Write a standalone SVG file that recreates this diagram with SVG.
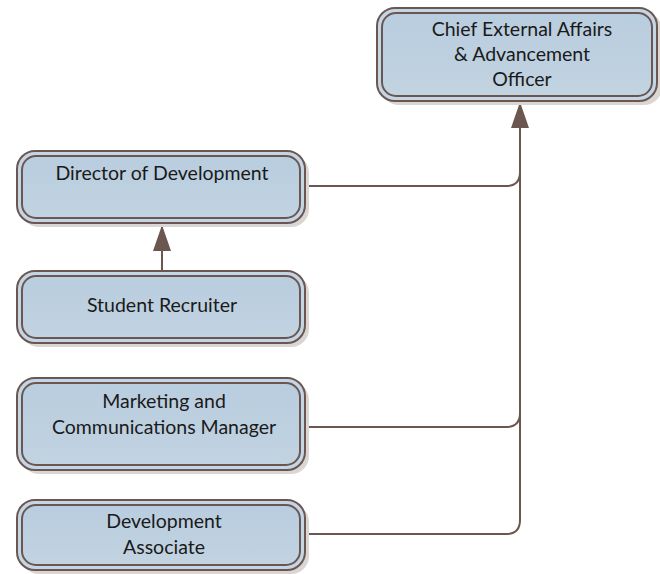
<svg xmlns="http://www.w3.org/2000/svg" width="660" height="574" viewBox="0 0 660 574">
<defs>
<linearGradient id="g" x1="0" y1="0" x2="0" y2="1">
<stop offset="0" stop-color="#b8cddf"/>
<stop offset="1" stop-color="#c2d3e1"/>
</linearGradient>
<marker id="ah" markerWidth="26" markerHeight="18" refX="26" refY="9" orient="auto" markerUnits="userSpaceOnUse" viewBox="0 0 26 18">
<path d="M0,0 L26,9 L0,18 Z" fill="#6b5750"/>
</marker>
<style>
.sh{fill:#d9d6d3;}
.outer{fill:#c4d6e6;stroke:#6b5750;stroke-width:2;}
.inner{fill:url(#g);stroke:#6b5750;stroke-width:2;}
.t{font-family:Lato,"Open Sans","Liberation Sans",sans-serif;font-size:19.5px;fill:#1a1a1a;text-anchor:middle;}
.c{fill:none;stroke:#6b5750;stroke-width:2;}
</style>
</defs>
<g id="connectors">
<path class="c" d="M306,534 H506 Q520,534 520,520 V128"/>
<path class="c" d="M306,427 H506 Q520,427 520,413"/>
<path class="c" d="M306,186 H506 Q520,186 520,172"/>
<path class="c" d="M520,130 V102" marker-end="url(#ah)"/>
<path class="c" d="M162,271 V225" marker-end="url(#ah)"/>
</g>
<g id="chief">
<rect class="sh" x="381" y="12" width="281" height="93" rx="18"/>
<rect class="outer" x="377" y="8" width="280" height="93" rx="18"/>
<rect class="inner" x="382" y="13" width="270" height="83" rx="14"/>
<text class="t" x="522" y="36">Chief External Affairs</text>
<text class="t" x="522" y="61">&amp; Advancement</text>
<text class="t" x="522" y="86">Officer</text>
</g>
<g id="director">
<rect class="sh" x="21" y="155" width="288" height="72" rx="18"/>
<rect class="outer" x="17" y="151" width="288" height="72" rx="18"/>
<rect class="inner" x="22" y="156" width="278" height="62" rx="14"/>
<text class="t" x="162" y="180">Director of Development</text>
</g>
<g id="recruiter">
<rect class="sh" x="21" y="275" width="288" height="72" rx="18"/>
<rect class="outer" x="17" y="271" width="288" height="72" rx="18"/>
<rect class="inner" x="22" y="276" width="278" height="62" rx="14"/>
<text class="t" x="162" y="312">Student Recruiter</text>
</g>
<g id="marketing">
<rect class="sh" x="21" y="382" width="288" height="92" rx="18"/>
<rect class="outer" x="17" y="378" width="288" height="92" rx="18"/>
<rect class="inner" x="22" y="383" width="278" height="82" rx="14"/>
<text class="t" x="164" y="408">Marketing and</text>
<text class="t" x="164" y="434">Communications Manager</text>
</g>
<g id="associate">
<rect class="sh" x="21" y="504" width="288" height="70" rx="18"/>
<rect class="outer" x="17" y="500" width="288" height="70" rx="18"/>
<rect class="inner" x="22" y="505" width="278" height="60" rx="14"/>
<text class="t" x="164" y="528">Development</text>
<text class="t" x="164" y="554">Associate</text>
</g>
</svg>
